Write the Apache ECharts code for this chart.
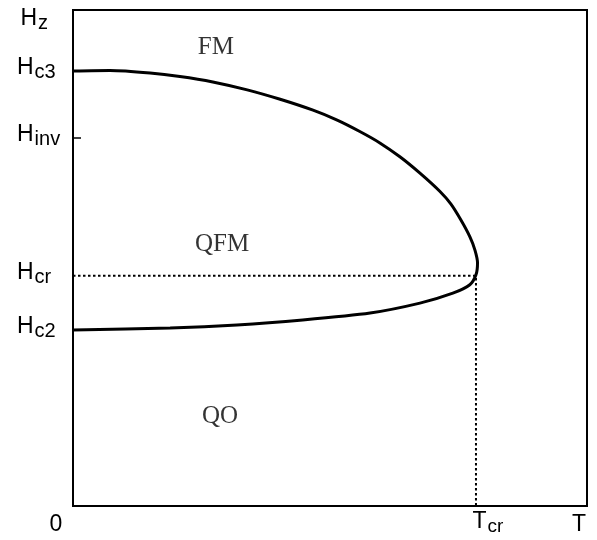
<!DOCTYPE html>
<html><head><meta charset="utf-8">
<script src="https://cdn.jsdelivr.net/npm/echarts@6/dist/echarts.min.js"></script>
<style>html,body{margin:0;padding:0;background:#fff}#c{width:597px;height:540px}</style>
</head><body><div id="c"></div>
<script>
// Temperature (0..100 arbitrary units) and field (0..100 arbitrary units)
const T_CR = 78.4;
const H_C3 = 87.7, H_INV = 74.2, H_CR = 46.4, H_C2 = 35.5;
// phase boundary: upper branch from Hc3 to the nose, then lower branch back to Hc2
const boundaryT = [0, 7.2, 15.0, 20.8, 27.2, 33.9, 40.3, 46.7, 51.4, 55.8, 59.7, 63.6, 67.5, 71.4, 73.5, 75.5, 77.2, 78.2, 78.7, 78.4, 77.2, 73.9, 67.5, 57.8, 44.7, 31.9, 18.9, 0];
const boundaryH = [87.7, 87.8, 87.3, 86.6, 85.5, 83.9, 82.0, 79.8, 77.8, 75.5, 73.2, 70.4, 67.1, 63.4, 60.9, 57.6, 54.3, 51.6, 49.0, 46.6, 44.6, 42.9, 40.9, 38.9, 37.5, 36.5, 35.9, 35.5];
// x tick labels
const xTickValues = [0, T_CR, 100];
const xTickLabels = ['{z|0}', '{tc|T}{ts|cr}', '{te|T}'];
// y tick labels
const yTickValues = [H_C3, H_INV, H_CR, H_C2];
const yTickLabels = ['{h|H}{s|c3}', '{h|H}{s|inv}', '{h|H}{s|cr}', '{h|H}{s|c2}'];
const yName = '{h|H}{s|z}';
// region labels
const regionNames = ['FM', 'QFM', 'QO'];
const regionT = [27.8, 29.0, 28.6];
const regionH = [92.5, 52.8, 18.0];

const chart = echarts.init(document.getElementById('c'), null, {renderer: 'canvas'});
const sans = 'Liberation Sans, Arial, sans-serif';
const hStyle = {fontSize: 23, fontFamily: sans, color: '#000', lineHeight: 23, padding: [0, 1, 3, 0], verticalAlign: 'bottom'};
const sStyle = {fontSize: 20, fontFamily: sans, color: '#000', lineHeight: 20, verticalAlign: 'bottom'};

chart.setOption({
  animation: false,
  grid: {left: 73, right: 10, top: 10, bottom: 34, show: true, borderColor: '#000', borderWidth: 2, backgroundColor: 'transparent'},
  xAxis: {
    type: 'value', min: 0, max: 100,
    splitLine: {show: false},
    axisLine: {show: true, onZero: false, lineStyle: {color: '#000', width: 2}},
    axisTick: {show: false},
    axisLabel: {
      customValues: xTickValues,
      margin: 7,
      formatter: (v) => xTickLabels[xTickValues.indexOf(v)],
      rich: {
        z: {fontSize: 23, fontFamily: sans, color: '#000', padding: [0, 34, 0, 0]},
        tc: {fontSize: 23, fontFamily: sans, color: '#000', lineHeight: 23, padding: [0, 1, 3, 24], verticalAlign: 'bottom'},
        ts: {fontSize: 19, fontFamily: sans, color: '#000', lineHeight: 19, verticalAlign: 'bottom'},
        te: {fontSize: 23, fontFamily: sans, color: '#000', padding: [0, 16, 0, 0]}
      }
    }
  },
  yAxis: {
    type: 'value', min: 0, max: 100,
    splitLine: {show: false},
    axisLine: {show: true, onZero: false, lineStyle: {color: '#000', width: 2}},
    axisTick: {show: true, inside: true, length: 8, customValues: [H_INV], lineStyle: {color: '#000', width: 1.5}},
    axisLabel: {
      customValues: yTickValues,
      margin: 56, align: 'left',
      formatter: (v) => yTickLabels[yTickValues.indexOf(v)],
      rich: {h: hStyle, s: sStyle}
    },
    name: yName, nameLocation: 'end', nameGap: -23,
    nameTextStyle: {align: 'right', padding: [0, 25, 0, 0], rich: {h: hStyle, s: sStyle}}
  },
  series: [
    {
      type: 'line', data: boundaryT.map((t, i) => [t, boundaryH[i]]),
      showSymbol: false, smooth: 0.25, lineStyle: {color: '#000', width: 3}, z: 3
    },
    {
      type: 'line', data: [[0, H_CR], [T_CR, H_CR], [T_CR, 0]],
      showSymbol: false, lineStyle: {color: '#000', width: 2, type: [2.5, 2.5]}, z: 2
    },
    {
      type: 'scatter', symbolSize: 0,
      data: regionNames.map((n, i) => ({name: n, value: [regionT[i], regionH[i]]})),
      label: {show: true, position: 'inside', formatter: '{b}', color: '#000', fontSize: 25, fontFamily: 'Liberation Serif, Times New Roman, serif'}
    }
  ]
});
</script></body></html>
